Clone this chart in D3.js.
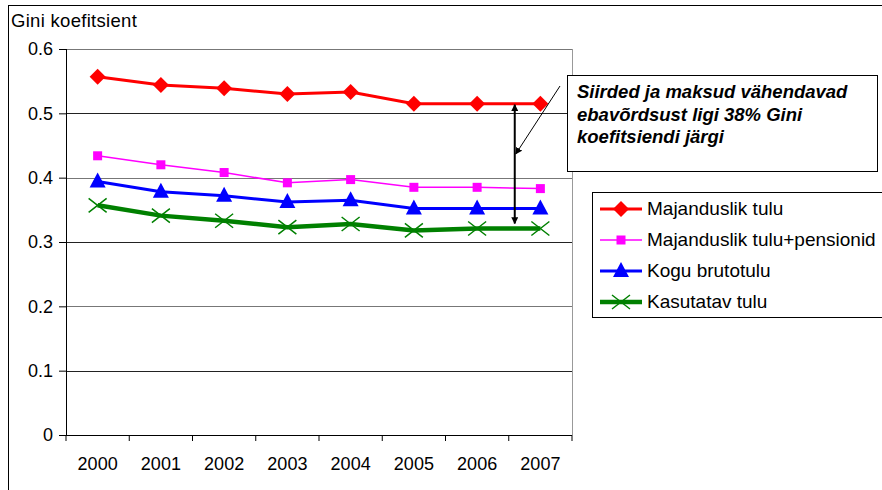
<!DOCTYPE html>
<html>
<head>
<meta charset="utf-8">
<script src="https://cdn.jsdelivr.net/npm/d3@7"></script>
<style>
  body { margin: 0; background: #fff; }
  svg text { font-family: Arial, "Liberation Sans", sans-serif; }
</style>
</head>
<body>
<div id="chart"></div>
<script>
// Data
const years = ["2000", "2001", "2002", "2003", "2004", "2005", "2006", "2007"];
const majanduslik = [0.557, 0.544, 0.539, 0.530, 0.533, 0.515, 0.515, 0.515];
const pensionid = [0.434, 0.420, 0.408, 0.392, 0.397, 0.385, 0.385, 0.383];
const brutotulu = [0.394, 0.378, 0.372, 0.362, 0.365, 0.352, 0.352, 0.352];
const kasutatav = [0.357, 0.341, 0.333, 0.323, 0.328, 0.318, 0.321, 0.321];
const yTicks = [0, 0.1, 0.2, 0.3, 0.4, 0.5, 0.6];

const series = [
  { name: "Majanduslik tulu", values: majanduslik, color: "#ff0000", width: 3, marker: "diamond" },
  { name: "Majanduslik tulu+pensionid", values: pensionid, color: "#ff00ff", width: 1.5, marker: "square" },
  { name: "Kogu brutotulu", values: brutotulu, color: "#0000ff", width: 3, marker: "triangle" },
  { name: "Kasutatav tulu", values: kasutatav, color: "#008000", width: 4.5, marker: "cross" }
];

const W = 882, H = 490;
const margin = { top: 49, right: 310, bottom: 55, left: 66 };
const width = W - margin.left - margin.right;
const height = H - margin.top - margin.bottom;

const svg = d3.select("#chart").append("svg")
    .attr("width", W)
    .attr("height", H);

// outer chart border
svg.append("rect")
    .attr("x", 8.5).attr("y", 5.5)
    .attr("width", W).attr("height", H)
    .attr("fill", "none").attr("stroke", "#000").attr("stroke-width", 1);

svg.append("text")
    .attr("x", 11).attr("y", 27)
    .attr("font-size", "18.5px")
    .attr("letter-spacing", "0.3px")
    .text("Gini koefitsient");

const g = svg.append("g")
    .attr("transform", `translate(${margin.left},${margin.top})`);

const x = d3.scaleBand().domain(years).range([0, width]);
const y = d3.scaleLinear().domain([0, 0.6]).range([height, 0]);

// gridlines
g.selectAll(".grid")
    .data(yTicks.filter(d => d > 0))
    .enter().append("line")
    .attr("x1", 0).attr("x2", width)
    .attr("y1", d => Math.round(y(d)) + 0.5)
    .attr("y2", d => Math.round(y(d)) + 0.5)
    .attr("stroke", (d, i) => i % 2 === 0 ? "#222" : "#777")
    .attr("stroke-width", 1);

// right border of plot area
g.append("line")
    .attr("x1", width + 0.5).attr("x2", width + 0.5)
    .attr("y1", 0).attr("y2", height)
    .attr("stroke", "#999");

// axes
const yAxis = g.append("g")
    .call(d3.axisLeft(y).tickValues(yTicks).tickFormat(d3.format("")).tickSize(7).tickPadding(6));
const xAxis = g.append("g")
    .attr("transform", `translate(0,${height})`)
    .call(d3.axisBottom(x).tickSize(0).tickPadding(22));

// tick marks between categories
xAxis.selectAll(".sep")
    .data(d3.range(years.length + 1))
    .enter().append("line")
    .attr("x1", i => i * x.step()).attr("x2", i => i * x.step())
    .attr("y1", 0).attr("y2", 6)
    .attr("stroke", "#000");

[yAxis, xAxis].forEach(a => {
    a.selectAll("path, line").attr("stroke", "#000");
    a.select(".domain").attr("d", a === yAxis ? `M0.5,0V${height}` : `M0,0.5H${width}`);
    a.selectAll("text").attr("font-size", "18px").attr("fill", "#000")
        .style("font-family", "Arial, 'Liberation Sans', sans-serif");
});

const cx = (d, i) => x(years[i]) + x.bandwidth() / 2;

const line = d3.line()
    .x((d, i) => cx(d, i))
    .y(d => y(d));

function drawMarker(sel, s) {
    if (s.marker === "diamond") {
        sel.append("path").attr("d", "M0,-8L8,0L0,8L-8,0Z").attr("fill", s.color);
    } else if (s.marker === "square") {
        sel.append("rect").attr("x", -4.5).attr("y", -4.5).attr("width", 9).attr("height", 9).attr("fill", s.color);
    } else if (s.marker === "triangle") {
        sel.append("path").attr("d", "M0,-9L8,6L-8,6Z").attr("fill", s.color);
    } else {
        sel.append("path").attr("d", "M-9,-7L9,7M-9,7L9,-7")
            .attr("stroke", s.color).attr("stroke-width", 1.5).attr("fill", "none");
    }
}

series.forEach(s => {
    g.append("path")
        .datum(s.values)
        .attr("d", line)
        .attr("fill", "none")
        .attr("stroke", s.color)
        .attr("stroke-width", s.width);

    g.selectAll(null)
        .data(s.values)
        .enter().append("g")
        .attr("transform", (d, i) => `translate(${cx(d, i)},${y(d)})`)
        .each(function() { drawMarker(d3.select(this), s); });
});

// arrows
const defs = svg.append("defs");
defs.append("marker")
    .attr("id", "arrow")
    .attr("viewBox", "0 0 10 10")
    .attr("refX", 9).attr("refY", 5)
    .attr("markerWidth", 7).attr("markerHeight", 7)
    .attr("markerUnits", "userSpaceOnUse")
    .attr("orient", "auto-start-reverse")
    .append("path").attr("d", "M0,0L10,5L0,10Z").attr("fill", "#000");

const arrowX = x("2006") + x.bandwidth() + 6;
g.append("line")
    .attr("x1", arrowX).attr("x2", arrowX)
    .attr("y1", y(majanduslik[6]) + 1).attr("y2", y(kasutatav[6]) - 5)
    .attr("stroke", "#000").attr("stroke-width", 2)
    .attr("marker-start", "url(#arrow)")
    .attr("marker-end", "url(#arrow)");

svg.append("line")
    .attr("x1", 560).attr("y1", 86)
    .attr("x2", margin.left + arrowX + 1).attr("y2", 154)
    .attr("stroke", "#000").attr("stroke-width", 1)
    .attr("marker-end", "url(#arrow)");

// annotation box
svg.append("rect")
    .attr("x", 567.5).attr("y", 75.5)
    .attr("width", 310).attr("height", 96)
    .attr("fill", "#fff").attr("stroke", "#000");

const note = ["Siirded ja maksud vähendavad", "ebavõrdsust ligi 38% Gini", "koefitsiendi järgi"];
svg.append("g").selectAll("text")
    .data(note)
    .enter().append("text")
    .attr("x", 577)
    .attr("y", (d, i) => 98 + i * 22.5)
    .attr("font-size", "18.5px")
    .attr("font-weight", "bold")
    .attr("font-style", "italic")
    .text(d => d);

// legend
const legend = svg.append("g");
legend.append("rect")
    .attr("x", 592.5).attr("y", 192.5)
    .attr("width", 300).attr("height", 125)
    .attr("fill", "#fff").attr("stroke", "#000");

series.forEach((s, i) => {
    const row = legend.append("g")
        .attr("transform", `translate(0,${209 + i * 31})`);
    row.append("line")
        .attr("x1", 600).attr("x2", 642)
        .attr("y1", 0).attr("y2", 0)
        .attr("stroke", s.color)
        .attr("stroke-width", s.width);
    drawMarker(row.append("g").attr("transform", "translate(621,0)"), s);
    row.append("text")
        .attr("x", 647).attr("y", 6)
        .attr("font-size", "19px")
        .text(s.name);
});
</script>
</body>
</html>
